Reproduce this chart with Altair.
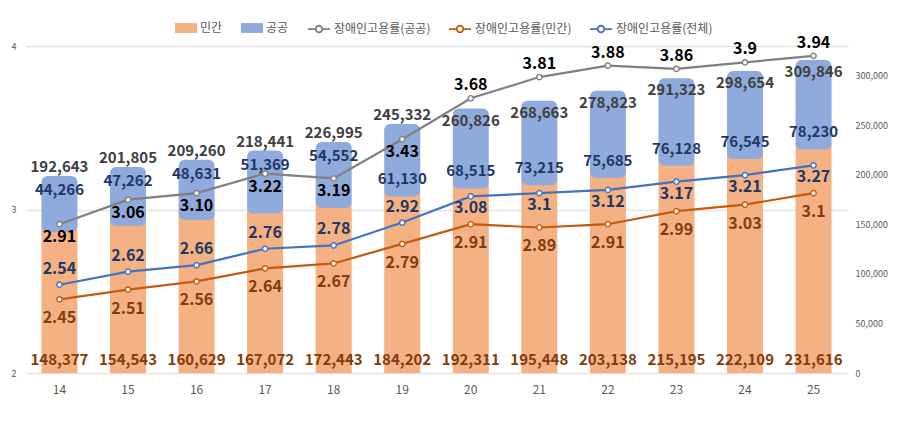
import altair as alt
import pandas as pd

years = ["14", "15", "16", "17", "18", "19", "20", "21", "22", "23", "24", "25"]
private_cnt = [148377, 154543, 160629, 167072, 172443, 184202, 192311, 195448, 203138, 215195, 222109, 231616]
public_cnt = [44266, 47262, 48631, 51369, 54552, 61130, 68515, 73215, 75685, 76128, 76545, 78230]
total_cnt = [192643, 201805, 209260, 218441, 226995, 245332, 260826, 268663, 278823, 291323, 298654, 309846]
rate_public = ["2.91", "3.06", "3.10", "3.22", "3.19", "3.43", "3.68", "3.81", "3.88", "3.86", "3.9", "3.94"]
rate_private = ["2.45", "2.51", "2.56", "2.64", "2.67", "2.79", "2.91", "2.89", "2.91", "2.99", "3.03", "3.1"]
rate_all = ["2.54", "2.62", "2.66", "2.76", "2.78", "2.92", "3.08", "3.1", "3.12", "3.17", "3.21", "3.27"]

bar_names = ["민간", "공공"]
line_names = ["장애인고용률(공공)", "장애인고용률(민간)", "장애인고용률(전체)"]

ORANGE_BAR = "#F4B183"
BLUE_BAR = "#8FAADC"
GRAY_LINE = "#808080"
ORANGE_LINE = "#C55A11"
BLUE_LINE = "#4472C4"
NAVY = "#1F3864"
BROWN = "#843C0C"
FONT = "Noto Sans CJK KR"

df_bar = pd.DataFrame({
    "yr": years,
    "n": [int(y) for y in years],
    "priv": private_cnt,
    "pub": public_cnt,
    "tot": total_cnt,
})

rows = []
for name, lst in zip(line_names, [rate_public, rate_private, rate_all]):
    for y, s in zip(years, lst):
        rows.append({"yr": y, "n": int(y), "s": name, "v": float(s), "lbl": s})
df_line = pd.DataFrame(rows)

x_enc = alt.X(
    "yr:O", sort=years,
    scale=alt.Scale(paddingInner=0.475, paddingOuter=0.24),
    axis=alt.Axis(title=None, ticks=False, domain=False, labelAngle=0,
                  labelFontSize=12, labelColor="#595959", labelPadding=11),
)

cnt_scale = alt.Scale(domain=[0, 330000])
cnt_axis = alt.Axis(orient="right", title=None, values=list(range(0, 300001, 50000)),
                    labelExpr="format(datum.value, ',')", labelFontSize=9,
                    labelColor="#595959", ticks=False,
                    domain=False, grid=False, labelPadding=7)

fill_enc = alt.Fill(
    "cat:N",
    scale=alt.Scale(domain=bar_names, range=[ORANGE_BAR, BLUE_BAR]),
    legend=alt.Legend(orient="none", legendX=150, legendY=-29, direction="horizontal",
                      title=None, labelFontSize=12, labelColor="#595959",
                      symbolType="M-1,-0.45L1,-0.45L1,0.45L-1,0.45Z", symbolSize=484,
                      symbolStrokeWidth=0, symbolOpacity=1, labelOffset=3, columnPadding=18),
)

base_bar = alt.Chart(df_bar)

orange = base_bar.mark_bar(size=36, opacity=1).transform_calculate(cat="'민간'").encode(
    x=x_enc,
    y=alt.Y("priv:Q", scale=cnt_scale, axis=cnt_axis),
    fill=fill_enc,
)
blue = base_bar.mark_bar(size=24, stroke=BLUE_BAR, strokeWidth=12, strokeJoin="round",
                         opacity=1).transform_calculate(cat="'공공'").encode(
    x=x_enc,
    y=alt.Y("tot:Q", scale=cnt_scale, axis=cnt_axis),
    y2="priv:Q",
    fill=fill_enc,
)

def cnt_text(field, color, dy, cond, yfield=None):
    ch = base_bar.mark_text(fontSize=15, fontWeight="bold", color=color, dy=dy,
                            baseline="middle", align="center")
    if cond is not None:
        ch = ch.transform_filter(cond)
    y = alt.Y(f"{yfield}:Q", scale=cnt_scale, axis=cnt_axis) if yfield else alt.Y(datum=0, scale=cnt_scale, axis=cnt_axis)
    return ch.encode(x=x_enc, y=y, text=alt.Text(f"{field}:Q", format=","))

tot_top = cnt_text("tot", "#404040", -15, "datum.n <= 19", "tot")
tot_in = cnt_text("tot", "#404040", 6, "datum.n >= 20", "tot")
pub_top = cnt_text("pub", NAVY, 8, "datum.n <= 18", "tot")
pub_bot = cnt_text("pub", NAVY, -11, "datum.n >= 19", "priv")
priv_lbl = cnt_text("priv", BROWN, -13, None, None)

bars = alt.layer(orange, blue, tot_top, tot_in, pub_top, pub_bot, priv_lbl)

rate_scale = alt.Scale(domain=[2, 4])
rate_axis = alt.Axis(orient="left", title=None, values=[2, 3, 4], grid=True,
                     labelExpr="format(datum.value, 'd')",
                     gridColor="#E3E3E3", gridWidth=1.3, labelFontSize=9,
                     labelColor="#595959", ticks=False, domain=False, labelPadding=9)

stroke_enc = alt.Stroke(
    "s:N",
    scale=alt.Scale(domain=line_names, range=[GRAY_LINE, ORANGE_LINE, BLUE_LINE]),
    legend=alt.Legend(orient="none", legendX=282, legendY=-29, direction="horizontal",
                      title=None, labelFontSize=12, labelColor="#595959",
                      symbolType="M-1,0L-0.3,0M0.3,0L1,0M-0.3,0A0.3,0.3,0,1,1,0.3,0A0.3,0.3,0,1,1,-0.3,0Z",
                      symbolSize=484, symbolStrokeWidth=1.8, symbolFillColor="white",
                      labelOffset=3, columnPadding=14),
)

base_line = alt.Chart(df_line)
y_rate = alt.Y("v:Q", scale=rate_scale, axis=rate_axis)

lines = base_line.mark_line(strokeWidth=2.2).encode(
    x=x_enc, y=y_rate, stroke=stroke_enc, detail="s:N"
)
points = base_line.mark_point(shape="circle", filled=False, fill="white", fillOpacity=1,
                              opacity=1, size=28, strokeWidth=1.4).encode(
    x=x_enc, y=y_rate, stroke=stroke_enc
)

def rate_text(series, color, dy, cond):
    flt = f"datum.s == '{series}'"
    if cond:
        flt += " && " + cond
    return base_line.mark_text(fontSize=16, fontWeight="bold", color=color, dy=dy,
                               baseline="middle", align="center").transform_filter(flt).encode(
        x=x_enc, y=y_rate, text="lbl:N"
    )

rt = [
    rate_text(line_names[0], "#000000", 13, "datum.n <= 19"),
    rate_text(line_names[0], "#000000", -13, "datum.n >= 20"),
    rate_text(line_names[2], NAVY, -16, "datum.n <= 19"),
    rate_text(line_names[2], NAVY, 12, "datum.n >= 20"),
    rate_text(line_names[1], BROWN, 19, None),
]

line_layer = alt.layer(lines, points, *rt)

chart = alt.layer(bars, line_layer).resolve_scale(
    y="independent", fill="independent", stroke="independent"
).properties(
    width=823, height=327,
    padding={"left": 17, "top": 38, "right": 43, "bottom": 40},
    autosize=alt.AutoSizeParams(type="none"),
).configure(font=FONT).configure_view(stroke=None)

chart.save("out.html", embed_options={"renderer": "svg", "actions": False})
